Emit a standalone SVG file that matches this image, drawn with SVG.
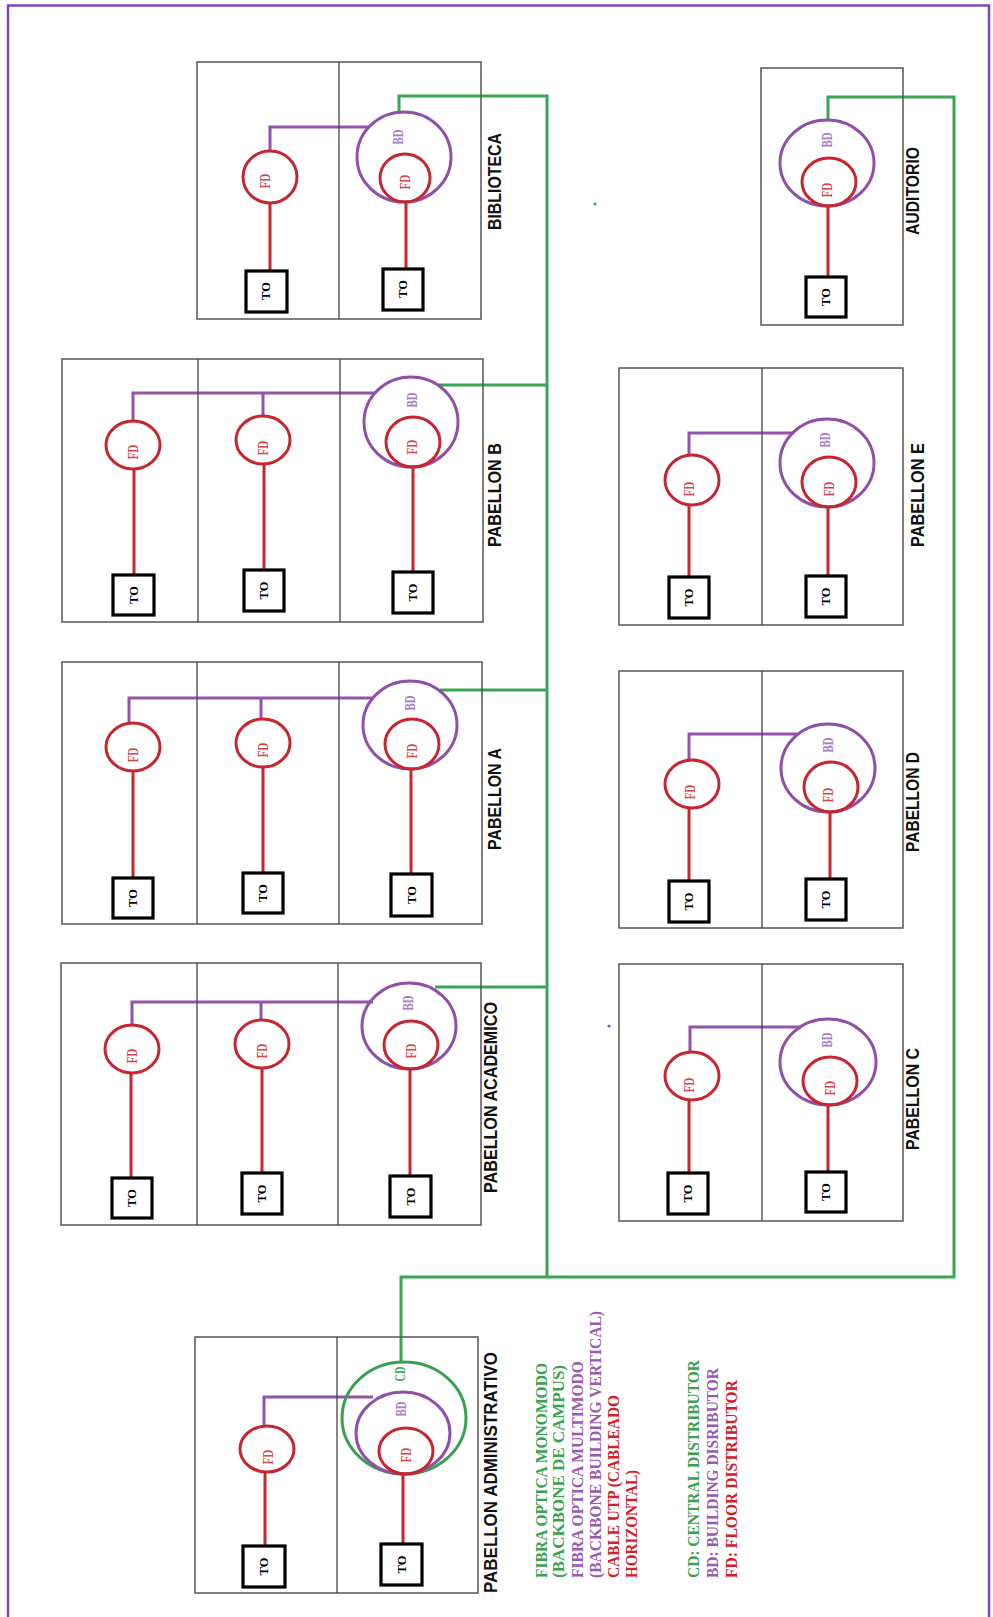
<svg xmlns="http://www.w3.org/2000/svg" width="993" height="1617" viewBox="0 0 993 1617">
<style>
.bg{fill:#fff}
.frame{fill:none;stroke:#7f45bd;stroke-width:2.5}
.box{fill:none;stroke:#555;stroke-width:1.5}
.dv{stroke:#444;stroke-width:1.3}
.to{fill:#fff;stroke:#000;stroke-width:3.2}
.fd{fill:none;stroke:#c8262f;stroke-width:3}
.bd{fill:none;stroke:#9050aa;stroke-width:3}
.cd{fill:none;stroke:#38a054;stroke-width:3}
.red{fill:none;stroke:#c8262f;stroke-width:3}
.pur{fill:none;stroke:#9353ac;stroke-width:3}
.grn{fill:none;stroke:#3aa655;stroke-width:3}
.lbl{font-family:"Liberation Sans",Arial,sans-serif;font-weight:bold;font-size:18px;fill:#111}
.fdt{font-family:"Liberation Serif","Times New Roman",serif;font-size:14px;font-weight:bold;fill:#d8444c}
.bdt{font-family:"Liberation Serif","Times New Roman",serif;font-size:14px;font-weight:bold;fill:#a77cc6}
.cdt{font-family:"Liberation Serif","Times New Roman",serif;font-size:14px;font-weight:bold;fill:#45aa60}
.tot{font-family:"Liberation Serif","Times New Roman",serif;font-size:12.5px;font-weight:bold;fill:#000}
.leg{font-family:"Liberation Serif","Times New Roman",serif;font-weight:bold;font-size:17.5px}
.lg{fill:#3aa24f}.lp{fill:#9a5ab0}.lr{fill:#d0202a}
</style>
<rect class="bg" x="0" y="0" width="993" height="1617"/>
<path class="frame" d="M8,1617 V5.5 H989 V1617"/>

<g id="connectors">
  <path class="grn" d="M401,1362 V1277 H954 V97 H828 V120"/>
  <path class="grn" d="M547,1277 V96 H399 V112"/>
  <path class="grn" d="M438,385 H547"/>
  <path class="grn" d="M440,690 H547"/>
  <path class="grn" d="M435,987 H547"/>
  <path class="pur" d="M270,150 V127 H369"/>
  <path class="pur" d="M133,421 V393 H375 M263,416 V393"/>
  <path class="pur" d="M129,723 V698 H374 M261,719 V698"/>
  <path class="pur" d="M132,1025 V1002 H373 M261,1020 V1002"/>
  <path class="pur" d="M264,1426 V1397 H373"/>
  <path class="pur" d="M689,455 V433 H794"/>
  <path class="pur" d="M689,760 V734 H797"/>
  <path class="pur" d="M690,1052 V1027 H800"/>
  <path class="red" d="M270,203 V271 M406,202 V269"/>
  <path class="red" d="M134,469 V575 M264,464 V570 M413,467 V572"/>
  <path class="red" d="M133,771 V878 M263,767 V873 M411,768 V874"/>
  <path class="red" d="M131,1073 V1178 M262,1068 V1173 M410,1069 V1176"/>
  <path class="red" d="M265,1472 V1546 M403,1474 V1544"/>
  <path class="red" d="M828,206 V277"/>
  <path class="red" d="M689,505 V577 M828,507 V576"/>
  <path class="red" d="M689,808 V881 M830,812 V879"/>
  <path class="red" d="M689,1100 V1173 M828,1105 V1172"/>
</g>

<g id="biblioteca">
  <rect class="box" x="197" y="62" width="284" height="257"/>
  <line class="dv" x1="339" y1="62" x2="339" y2="319"/>
  <ellipse class="fd" cx="270" cy="177" rx="27" ry="26"/>
  <ellipse class="bd" cx="404" cy="157" rx="47" ry="45"/>
  <ellipse class="fd" cx="405" cy="178" rx="25" ry="24"/>
  <rect class="to" x="246" y="271" width="41" height="41"/>
  <rect class="to" x="383" y="269" width="40" height="41"/>
  <text class="fdt" transform="translate(265,181) rotate(-90)" text-anchor="middle" dominant-baseline="central" textLength="15" lengthAdjust="spacingAndGlyphs">FD</text>
  <text class="bdt" transform="translate(398,137) rotate(-90)" text-anchor="middle" dominant-baseline="central" textLength="15" lengthAdjust="spacingAndGlyphs">BD</text>
  <text class="fdt" transform="translate(405,182) rotate(-90)" text-anchor="middle" dominant-baseline="central" textLength="15" lengthAdjust="spacingAndGlyphs">FD</text>
  <text class="tot" transform="translate(266,291) rotate(-90)" text-anchor="middle" dominant-baseline="central">TO</text>
  <text class="tot" transform="translate(403,289) rotate(-90)" text-anchor="middle" dominant-baseline="central">TO</text>
  <text class="lbl" transform="translate(495,181.5) rotate(-90)" text-anchor="middle" dominant-baseline="central" textLength="97" lengthAdjust="spacingAndGlyphs">BIBLIOTECA</text>
</g>

<g id="pabellon-b">
  <rect class="box" x="62" y="359" width="421" height="263"/>
  <line class="dv" x1="198" y1="359" x2="198" y2="622"/>
  <line class="dv" x1="340" y1="359" x2="340" y2="622"/>
  <ellipse class="fd" cx="133" cy="445" rx="27" ry="24"/>
  <ellipse class="fd" cx="263" cy="440" rx="27" ry="24"/>
  <ellipse class="bd" cx="411" cy="422" rx="47" ry="45"/>
  <ellipse class="fd" cx="413" cy="442" rx="27" ry="25"/>
  <rect class="to" x="113" y="575" width="41" height="40"/>
  <rect class="to" x="244" y="570" width="40" height="41"/>
  <rect class="to" x="393" y="572" width="40" height="41"/>
  <text class="fdt" transform="translate(133,452) rotate(-90)" text-anchor="middle" dominant-baseline="central" textLength="15" lengthAdjust="spacingAndGlyphs">FD</text>
  <text class="fdt" transform="translate(263,448) rotate(-90)" text-anchor="middle" dominant-baseline="central" textLength="15" lengthAdjust="spacingAndGlyphs">FD</text>
  <text class="bdt" transform="translate(412,400) rotate(-90)" text-anchor="middle" dominant-baseline="central" textLength="15" lengthAdjust="spacingAndGlyphs">BD</text>
  <text class="fdt" transform="translate(412,447) rotate(-90)" text-anchor="middle" dominant-baseline="central" textLength="15" lengthAdjust="spacingAndGlyphs">FD</text>
  <text class="tot" transform="translate(133.5,595) rotate(-90)" text-anchor="middle" dominant-baseline="central">TO</text>
  <text class="tot" transform="translate(264,590.5) rotate(-90)" text-anchor="middle" dominant-baseline="central">TO</text>
  <text class="tot" transform="translate(413,592.5) rotate(-90)" text-anchor="middle" dominant-baseline="central">TO</text>
  <text class="lbl" transform="translate(495,495) rotate(-90)" text-anchor="middle" dominant-baseline="central" textLength="104" lengthAdjust="spacingAndGlyphs">PABELLON B</text>
</g>

<g id="pabellon-a">
  <rect class="box" x="62" y="662" width="420" height="262"/>
  <line class="dv" x1="197" y1="662" x2="197" y2="924"/>
  <line class="dv" x1="339" y1="662" x2="339" y2="924"/>
  <ellipse class="fd" cx="133" cy="747" rx="27" ry="24"/>
  <ellipse class="fd" cx="263" cy="743" rx="27" ry="24"/>
  <ellipse class="bd" cx="410" cy="725" rx="47" ry="44"/>
  <ellipse class="fd" cx="412" cy="744" rx="27" ry="25"/>
  <rect class="to" x="113" y="878" width="40" height="40"/>
  <rect class="to" x="243" y="873" width="40" height="40"/>
  <rect class="to" x="391" y="874" width="41" height="42"/>
  <text class="fdt" transform="translate(133,755) rotate(-90)" text-anchor="middle" dominant-baseline="central" textLength="15" lengthAdjust="spacingAndGlyphs">FD</text>
  <text class="fdt" transform="translate(263,750) rotate(-90)" text-anchor="middle" dominant-baseline="central" textLength="15" lengthAdjust="spacingAndGlyphs">FD</text>
  <text class="bdt" transform="translate(410,703) rotate(-90)" text-anchor="middle" dominant-baseline="central" textLength="15" lengthAdjust="spacingAndGlyphs">BD</text>
  <text class="fdt" transform="translate(412,751) rotate(-90)" text-anchor="middle" dominant-baseline="central" textLength="15" lengthAdjust="spacingAndGlyphs">FD</text>
  <text class="tot" transform="translate(133,898) rotate(-90)" text-anchor="middle" dominant-baseline="central">TO</text>
  <text class="tot" transform="translate(263,893) rotate(-90)" text-anchor="middle" dominant-baseline="central">TO</text>
  <text class="tot" transform="translate(411.5,895) rotate(-90)" text-anchor="middle" dominant-baseline="central">TO</text>
  <text class="lbl" transform="translate(495,799) rotate(-90)" text-anchor="middle" dominant-baseline="central" textLength="102" lengthAdjust="spacingAndGlyphs">PABELLON A</text>
</g>

<g id="pabellon-academico">
  <rect class="box" x="61" y="963" width="420" height="262"/>
  <line class="dv" x1="197" y1="963" x2="197" y2="1225"/>
  <line class="dv" x1="338" y1="963" x2="338" y2="1225"/>
  <ellipse class="fd" cx="132" cy="1049" rx="27" ry="24"/>
  <ellipse class="fd" cx="262" cy="1044" rx="27" ry="24"/>
  <ellipse class="bd" cx="409" cy="1026" rx="47" ry="43"/>
  <ellipse class="fd" cx="411" cy="1045" rx="27" ry="24"/>
  <rect class="to" x="112" y="1178" width="40" height="40"/>
  <rect class="to" x="242" y="1173" width="40" height="41"/>
  <rect class="to" x="390" y="1176" width="41" height="41"/>
  <text class="fdt" transform="translate(132,1056) rotate(-90)" text-anchor="middle" dominant-baseline="central" textLength="15" lengthAdjust="spacingAndGlyphs">FD</text>
  <text class="fdt" transform="translate(262,1051) rotate(-90)" text-anchor="middle" dominant-baseline="central" textLength="15" lengthAdjust="spacingAndGlyphs">FD</text>
  <text class="bdt" transform="translate(408,1003) rotate(-90)" text-anchor="middle" dominant-baseline="central" textLength="15" lengthAdjust="spacingAndGlyphs">BD</text>
  <text class="fdt" transform="translate(411,1051) rotate(-90)" text-anchor="middle" dominant-baseline="central" textLength="15" lengthAdjust="spacingAndGlyphs">FD</text>
  <text class="tot" transform="translate(132,1198) rotate(-90)" text-anchor="middle" dominant-baseline="central">TO</text>
  <text class="tot" transform="translate(262,1193.5) rotate(-90)" text-anchor="middle" dominant-baseline="central">TO</text>
  <text class="tot" transform="translate(410.5,1196.5) rotate(-90)" text-anchor="middle" dominant-baseline="central">TO</text>
  <text class="lbl" transform="translate(491,1097.5) rotate(-90)" text-anchor="middle" dominant-baseline="central" textLength="191" lengthAdjust="spacingAndGlyphs">PABELLON ACADEMICO</text>
</g>

<g id="pabellon-administrativo">
  <rect class="box" x="195" y="1337" width="283" height="256"/>
  <line class="dv" x1="337" y1="1337" x2="337" y2="1593"/>
  <ellipse class="fd" cx="267" cy="1449" rx="27" ry="23"/>
  <ellipse class="cd" cx="404" cy="1418" rx="62" ry="56"/>
  <ellipse class="bd" cx="403" cy="1433" rx="47" ry="41"/>
  <ellipse class="fd" cx="406" cy="1451" rx="27" ry="23"/>
  <rect class="to" x="243" y="1546" width="42" height="41"/>
  <rect class="to" x="381" y="1544" width="41" height="41"/>
  <text class="fdt" transform="translate(268,1457) rotate(-90)" text-anchor="middle" dominant-baseline="central" textLength="15" lengthAdjust="spacingAndGlyphs">FD</text>
  <text class="cdt" transform="translate(400,1374) rotate(-90)" text-anchor="middle" dominant-baseline="central" textLength="15" lengthAdjust="spacingAndGlyphs">CD</text>
  <text class="bdt" transform="translate(401,1409) rotate(-90)" text-anchor="middle" dominant-baseline="central" textLength="15" lengthAdjust="spacingAndGlyphs">BD</text>
  <text class="fdt" transform="translate(406,1455) rotate(-90)" text-anchor="middle" dominant-baseline="central" textLength="15" lengthAdjust="spacingAndGlyphs">FD</text>
  <text class="tot" transform="translate(264,1566.5) rotate(-90)" text-anchor="middle" dominant-baseline="central">TO</text>
  <text class="tot" transform="translate(401.5,1564.5) rotate(-90)" text-anchor="middle" dominant-baseline="central">TO</text>
  <text class="lbl" transform="translate(491,1472.5) rotate(-90)" text-anchor="middle" dominant-baseline="central" textLength="241" lengthAdjust="spacingAndGlyphs">PABELLON ADMINISTRATIVO</text>
</g>

<g id="auditorio">
  <rect class="box" x="761" y="68" width="142" height="257"/>
  <ellipse class="bd" cx="827" cy="163" rx="47" ry="43"/>
  <ellipse class="fd" cx="829" cy="182" rx="27" ry="24"/>
  <rect class="to" x="806" y="277" width="40" height="40"/>
  <text class="bdt" transform="translate(827,140) rotate(-90)" text-anchor="middle" dominant-baseline="central" textLength="15" lengthAdjust="spacingAndGlyphs">BD</text>
  <text class="fdt" transform="translate(827,190) rotate(-90)" text-anchor="middle" dominant-baseline="central" textLength="15" lengthAdjust="spacingAndGlyphs">FD</text>
  <text class="tot" transform="translate(826,297) rotate(-90)" text-anchor="middle" dominant-baseline="central">TO</text>
  <text class="lbl" transform="translate(913,191) rotate(-90)" text-anchor="middle" dominant-baseline="central" textLength="88" lengthAdjust="spacingAndGlyphs">AUDITORIO</text>
</g>

<g id="pabellon-e">
  <rect class="box" x="619" y="368" width="284" height="257"/>
  <line class="dv" x1="762" y1="368" x2="762" y2="625"/>
  <ellipse class="fd" cx="692" cy="480" rx="27" ry="25"/>
  <ellipse class="bd" cx="827" cy="463" rx="47" ry="44"/>
  <ellipse class="fd" cx="829" cy="482" rx="27" ry="25"/>
  <rect class="to" x="669" y="577" width="40" height="41"/>
  <rect class="to" x="806" y="576" width="40" height="41"/>
  <text class="fdt" transform="translate(689,489) rotate(-90)" text-anchor="middle" dominant-baseline="central" textLength="15" lengthAdjust="spacingAndGlyphs">FD</text>
  <text class="bdt" transform="translate(825,440) rotate(-90)" text-anchor="middle" dominant-baseline="central" textLength="15" lengthAdjust="spacingAndGlyphs">BD</text>
  <text class="fdt" transform="translate(829,489) rotate(-90)" text-anchor="middle" dominant-baseline="central" textLength="15" lengthAdjust="spacingAndGlyphs">FD</text>
  <text class="tot" transform="translate(689,597.5) rotate(-90)" text-anchor="middle" dominant-baseline="central">TO</text>
  <text class="tot" transform="translate(826,596.5) rotate(-90)" text-anchor="middle" dominant-baseline="central">TO</text>
  <text class="lbl" transform="translate(918,495) rotate(-90)" text-anchor="middle" dominant-baseline="central" textLength="104" lengthAdjust="spacingAndGlyphs">PABELLON E</text>
</g>

<g id="pabellon-d">
  <rect class="box" x="619" y="671" width="284" height="257"/>
  <line class="dv" x1="762" y1="671" x2="762" y2="928"/>
  <ellipse class="fd" cx="692" cy="784" rx="27" ry="24"/>
  <ellipse class="bd" cx="828" cy="768" rx="47" ry="44"/>
  <ellipse class="fd" cx="831" cy="787" rx="27" ry="25"/>
  <rect class="to" x="669" y="881" width="40" height="41"/>
  <rect class="to" x="806" y="879" width="40" height="41"/>
  <text class="fdt" transform="translate(690,792) rotate(-90)" text-anchor="middle" dominant-baseline="central" textLength="15" lengthAdjust="spacingAndGlyphs">FD</text>
  <text class="bdt" transform="translate(828,745) rotate(-90)" text-anchor="middle" dominant-baseline="central" textLength="15" lengthAdjust="spacingAndGlyphs">BD</text>
  <text class="fdt" transform="translate(828,795) rotate(-90)" text-anchor="middle" dominant-baseline="central" textLength="15" lengthAdjust="spacingAndGlyphs">FD</text>
  <text class="tot" transform="translate(689,901.5) rotate(-90)" text-anchor="middle" dominant-baseline="central">TO</text>
  <text class="tot" transform="translate(826,899.5) rotate(-90)" text-anchor="middle" dominant-baseline="central">TO</text>
  <text class="lbl" transform="translate(913,802) rotate(-90)" text-anchor="middle" dominant-baseline="central" textLength="100" lengthAdjust="spacingAndGlyphs">PABELLON D</text>
</g>

<g id="pabellon-c">
  <rect class="box" x="619" y="964" width="284" height="257"/>
  <line class="dv" x1="762" y1="964" x2="762" y2="1221"/>
  <ellipse class="fd" cx="692" cy="1076" rx="27" ry="24"/>
  <ellipse class="bd" cx="828" cy="1062" rx="48" ry="43"/>
  <ellipse class="fd" cx="830" cy="1081" rx="27" ry="24"/>
  <rect class="to" x="668" y="1173" width="40" height="41"/>
  <rect class="to" x="806" y="1172" width="40" height="40"/>
  <text class="fdt" transform="translate(689,1085) rotate(-90)" text-anchor="middle" dominant-baseline="central" textLength="15" lengthAdjust="spacingAndGlyphs">FD</text>
  <text class="bdt" transform="translate(827,1040) rotate(-90)" text-anchor="middle" dominant-baseline="central" textLength="15" lengthAdjust="spacingAndGlyphs">BD</text>
  <text class="fdt" transform="translate(830,1088) rotate(-90)" text-anchor="middle" dominant-baseline="central" textLength="15" lengthAdjust="spacingAndGlyphs">FD</text>
  <text class="tot" transform="translate(688,1193.5) rotate(-90)" text-anchor="middle" dominant-baseline="central">TO</text>
  <text class="tot" transform="translate(826,1192) rotate(-90)" text-anchor="middle" dominant-baseline="central">TO</text>
  <text class="lbl" transform="translate(913,1099) rotate(-90)" text-anchor="middle" dominant-baseline="central" textLength="102" lengthAdjust="spacingAndGlyphs">PABELLON C</text>
</g>

<circle cx="595" cy="204" r="1.6" fill="#3aa655"/>
<circle cx="609" cy="1026" r="1.6" fill="#9353ac"/>

<g id="legend" class="leg">
  <text class="lg" transform="translate(541,1578) rotate(-90)" dominant-baseline="central" textLength="215" lengthAdjust="spacingAndGlyphs">FIBRA OPTICA MONOMODO</text>
  <text class="lg" transform="translate(558,1578) rotate(-90)" dominant-baseline="central" textLength="213" lengthAdjust="spacingAndGlyphs">(BACKBONE DE CAMPUS)</text>
  <text class="lp" transform="translate(577,1578) rotate(-90)" dominant-baseline="central" textLength="217" lengthAdjust="spacingAndGlyphs">FIBRA OPTICA MULTIMODO</text>
  <text class="lp" transform="translate(595,1578) rotate(-90)" dominant-baseline="central" textLength="267" lengthAdjust="spacingAndGlyphs">(BACKBONE BUILDING VERTICAL)</text>
  <text class="lr" transform="translate(612.5,1578) rotate(-90)" dominant-baseline="central" textLength="183" lengthAdjust="spacingAndGlyphs">CABLE UTP (CABLEADO</text>
  <text class="lr" transform="translate(631,1578) rotate(-90)" dominant-baseline="central" textLength="108" lengthAdjust="spacingAndGlyphs">HORIZONTAL)</text>
  <text class="lg" transform="translate(692.5,1578) rotate(-90)" dominant-baseline="central" textLength="218" lengthAdjust="spacingAndGlyphs">CD: CENTRAL DISTRIBUTOR</text>
  <text class="lp" transform="translate(712,1578) rotate(-90)" dominant-baseline="central" textLength="210" lengthAdjust="spacingAndGlyphs">BD: BUILDING DISRIBUTOR</text>
  <text class="lr" transform="translate(731,1578) rotate(-90)" dominant-baseline="central" textLength="198" lengthAdjust="spacingAndGlyphs">FD: FLOOR DISTRIBUTOR</text>
</g>
</svg>
